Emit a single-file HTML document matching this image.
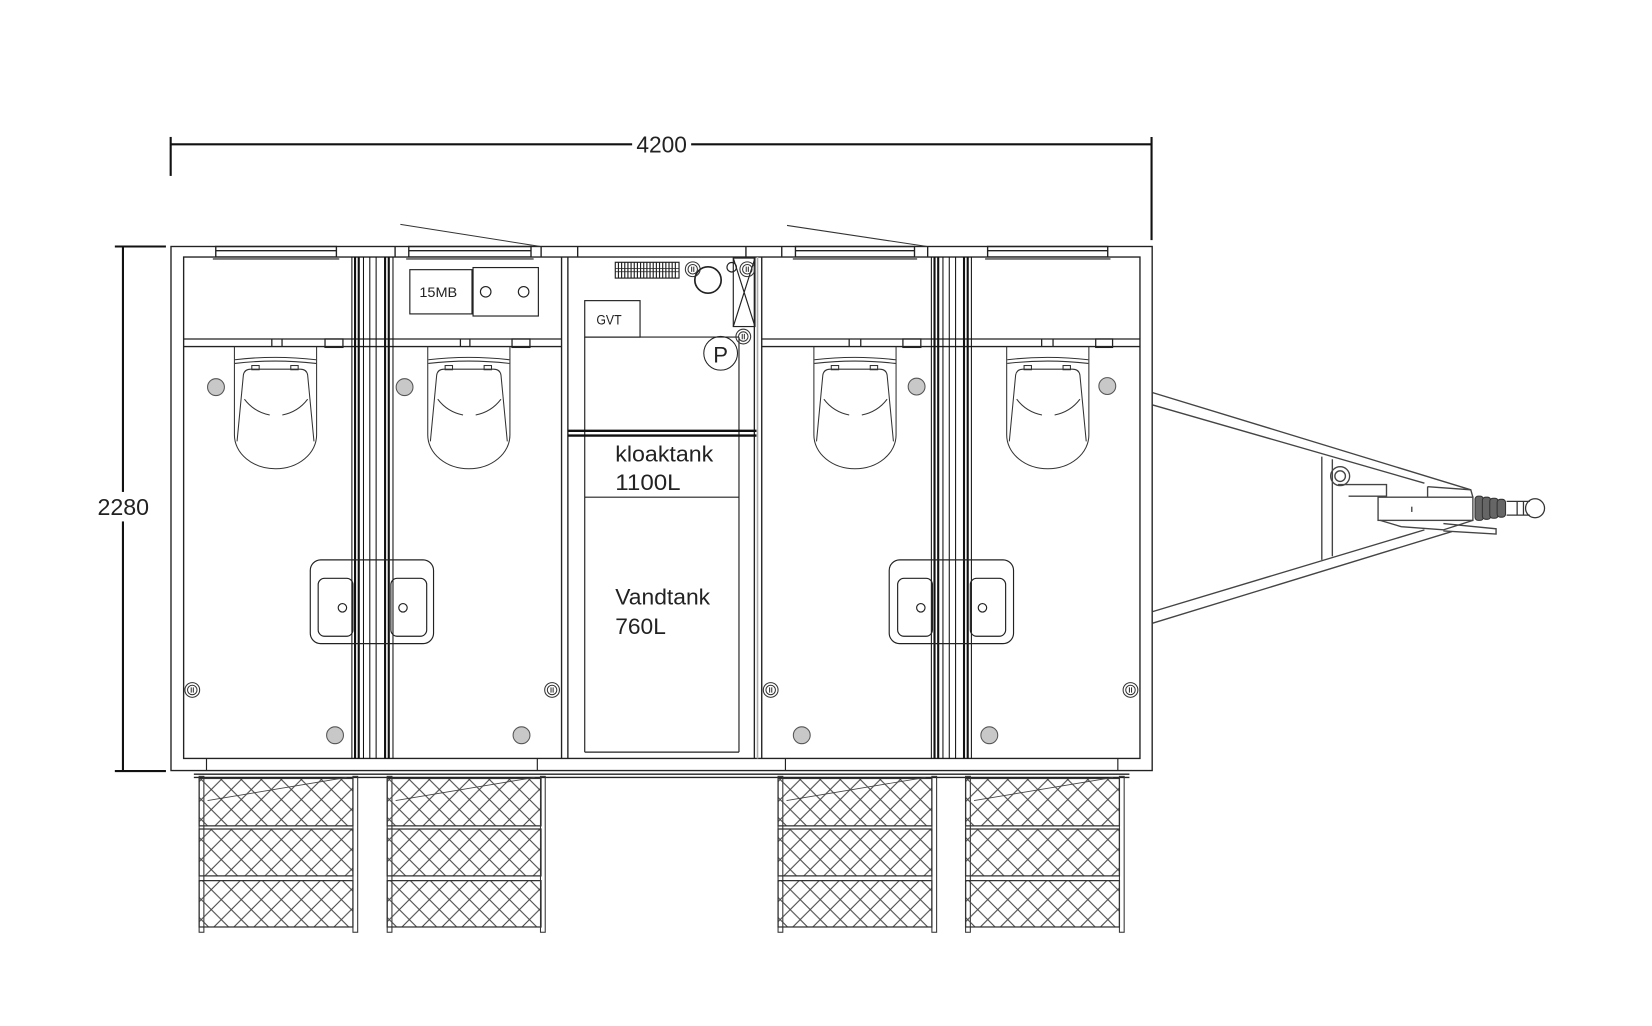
<!DOCTYPE html>
<html><head><meta charset="utf-8"><style>
html,body{margin:0;padding:0;background:#fff;}
svg{display:block;}
text{font-family:"Liberation Sans",sans-serif;fill:#222;}
</style></head><body>
<svg width="1652" height="1026" viewBox="0 0 1568 974" preserveAspectRatio="none" xmlns="http://www.w3.org/2000/svg">
<defs>
<pattern id="hatch" patternUnits="userSpaceOnUse" width="19" height="19" x="2" y="3">
<path d="M0,0 L19,19 M19,0 L0,19" stroke="#444" stroke-width="1" fill="none"/>
</pattern>
<g id="toilet" fill="none" stroke="#333" stroke-width="1">
<path d="M1.5,0 L1.5,84 A39,32 0 0 0 79.5,84 L79.5,0"/>
<path d="M2,12.5 Q40,8 79,12.5"/>
<path d="M2,16 Q40,11.5 79,16"/>
<path d="M4,90 L10,27 Q11,21.5 17,21.5 L64,21.5 Q70,21.5 71,27 L77,90"/>
<path d="M11,50 Q20,62 35,65"/>
<path d="M47,65 Q62,62 71,50"/>
<rect x="18" y="18" width="7" height="4"/>
<rect x="55" y="18" width="7" height="4"/>
</g>
<g id="dot"><circle r="8" fill="#c8c8c8" stroke="#555" stroke-width="1"/></g>
<g id="dc" fill="none" stroke="#333" stroke-width="1"><circle r="7"/><circle r="4.5"/><path d="M-1,-2.5 V2.5 M1,-2.5 V2.5"/></g>
<g id="cage">
<rect x="0" y="0" width="4.5" height="148" fill="none" stroke="#333" stroke-width="1"/>
<rect x="0" y="2" width="146" height="45" fill="url(#hatch)" stroke="#333" stroke-width="1.2"/>
<rect x="0" y="50" width="146" height="44.5" fill="url(#hatch)" stroke="#333" stroke-width="1.2"/>
<rect x="0" y="99" width="146" height="44" fill="url(#hatch)" stroke="#333" stroke-width="1.2"/>
<path d="M8,23 L140,1" stroke="#444" stroke-width="0.8"/>
</g>
</defs>

<g stroke="#111" stroke-width="2" fill="none">
<path d="M162,137 H1093"/>
<path d="M162,130 V167"/>
<path d="M1093,130 V228"/>
<path d="M116.7,234 V732"/>
<path d="M109,234 H157.5"/>
<path d="M109,732 H157.5"/>
</g>
<rect x="600" y="124" width="56" height="26" fill="#fff"/>
<text x="628" y="145" font-size="22" text-anchor="middle" textLength="48" lengthAdjust="spacingAndGlyphs">4200</text>
<rect x="90" y="467" width="54" height="28" fill="#fff"/>
<text x="117" y="489" font-size="22" text-anchor="middle" textLength="49" lengthAdjust="spacingAndGlyphs">2280</text>

<g fill="none" stroke="#222" stroke-width="1.3">
<rect x="162.3" y="234" width="931.3" height="497.5"/>
<rect x="174.3" y="244" width="907.7" height="476"/>
<path d="M375,234 V244 M513.6,234 V244 M548.3,234 V244 M708,234 V244 M742,234 V244 M880.5,234 V244"/>
<rect x="204.8" y="234" width="114.5" height="10"/><path d="M204.8,238 H319.3"/>
<rect x="388" y="234" width="116" height="10"/><path d="M388,238 H504"/>
<rect x="755" y="234" width="113" height="10"/><path d="M755,238 H868"/>
<rect x="937.4" y="234" width="114" height="10"/><path d="M937.4,238 H1051.4"/>
</g>
<g stroke="#777" stroke-width="2.5">
<path d="M202,245.5 H322 M385.5,245.5 H506.5 M752.5,245.5 H870.5 M935,245.5 H1054"/>
</g>
<g stroke="#333" stroke-width="1">
<path d="M380,213 L513,234"/>
<path d="M747,214 L880,234"/>
</g>

<g fill="none" stroke="#222" stroke-width="1.2">
<path d="M174.3,321.8 H533 M174.3,329 H533"/>
<path d="M723,321.8 H1082 M723,329 H1082"/>
<path d="M258,321.8 V329 M267.7,321.8 V329 M437,321.8 V329 M446,321.8 V329 M806,321.8 V329 M817,321.8 V329 M988.7,321.8 V329 M999.5,321.8 V329"/>
<rect x="308.5" y="321.8" width="17" height="8"/>
<rect x="486" y="321.8" width="17" height="8"/>
<rect x="857" y="321.8" width="17" height="8"/>
<rect x="1040" y="321.8" width="16" height="8"/>
</g>

<g stroke="#111">
<g stroke-width="1"><path d="M334,244 V720 M345,244 V720 M351,244 V720 M357,244 V720 M373,244 V720"/>
<path d="M884,244 V720 M895,244 V720 M901,244 V720 M907,244 V720 M922,244 V720"/></g>
<g stroke-width="2"><path d="M337,244 V720 M340.5,244 V720 M365.5,244 V720 M369,244 V720"/>
<path d="M887,244 V720 M890.5,244 V720 M915,244 V720 M918.5,244 V720"/></g>
</g>

<g fill="none" stroke="#222" stroke-width="1.3">
<path d="M533,244 V720 M539,244 V720 M716,244 V720 M723,244 V720"/>
</g>
<path d="M719,244 V720" stroke="#aaa" stroke-width="1.5"/>

<g fill="none" stroke="#222" stroke-width="1.1">
<rect x="584" y="249" width="60.5" height="15"/>
<path d="M587,249V264M590,249V264M593,249V264M596,249V264M599,249V264M602,249V264M605,249V264M608,249V264M611,249V264M614,249V264M617,249V264M620,249V264M623,249V264M626,249V264M629,249V264M632,249V264M635,249V264M638,249V264M641,249V264"/>
<path d="M584,255 H644.5 M584,258 H644.5" stroke-width="0.7"/>
<circle cx="672" cy="265.8" r="12.5" stroke-width="1.6"/>
<circle cx="694.5" cy="253.7" r="4.5"/>
<rect x="696" y="245" width="20.6" height="65"/>
<path d="M696,245 L716.6,310 M716.6,245 L696,310"/>
<rect x="555" y="285.4" width="52.5" height="34.6"/>
<path d="M555,320 H701.4 M555,320 V714 M701.4,320 V714 M555,472 H701.4 M555,714 H701.4"/>
<circle cx="684" cy="335.4" r="16" stroke-width="1"/>
<rect x="389" y="256" width="59" height="42"/>
<rect x="449" y="254" width="62" height="46"/>
<circle cx="461" cy="277" r="5"/>
<circle cx="497" cy="277" r="5"/>
</g>
<use href="#dc" x="657.5" y="255.6"/>
<use href="#dc" x="709.3" y="255.6"/>
<use href="#dc" x="705.5" y="319.5"/>
<g stroke="#111" stroke-width="2.2"><path d="M539,409 H718 M539,413.5 H718"/></g>
<text x="684" y="344" font-size="21" text-anchor="middle" fill="#444">P</text>
<text x="566" y="308" font-size="13" fill="#333" textLength="24" lengthAdjust="spacingAndGlyphs">GVT</text>
<text x="398" y="282" font-size="13" fill="#333" textLength="36" lengthAdjust="spacingAndGlyphs">15MB</text>
<g font-size="21" fill="#444">
<text x="584" y="438" textLength="93" lengthAdjust="spacingAndGlyphs">kloaktank</text>
<text x="584" y="465" textLength="62" lengthAdjust="spacingAndGlyphs">1100L</text>
<text x="584" y="574" textLength="90" lengthAdjust="spacingAndGlyphs">Vandtank</text>
<text x="584" y="602" textLength="48" lengthAdjust="spacingAndGlyphs">760L</text>
</g>

<use href="#toilet" x="221" y="329"/>
<use href="#toilet" x="404.5" y="329"/>
<use href="#toilet" x="771" y="329"/>
<use href="#toilet" x="954" y="329"/>

<use href="#dot" x="205" y="367.5"/>
<use href="#dot" x="384" y="367.5"/>
<use href="#dot" x="870" y="367"/>
<use href="#dot" x="1051" y="366.5"/>
<use href="#dot" x="318" y="698"/>
<use href="#dot" x="495" y="698"/>
<use href="#dot" x="761" y="698"/>
<use href="#dot" x="939" y="698"/>
<use href="#dc" x="182.5" y="655"/>
<use href="#dc" x="524" y="655"/>
<use href="#dc" x="731.5" y="655"/>
<use href="#dc" x="1073" y="655"/>

<g fill="none" stroke="#222" stroke-width="1.1">
<rect x="294.5" y="531.5" width="117" height="79.5" rx="10"/>
<rect x="302" y="549" width="33" height="55" rx="6"/>
<rect x="371" y="549" width="34" height="55" rx="6"/>
<circle cx="325" cy="577" r="4"/><circle cx="382.5" cy="577" r="4"/>
<rect x="844" y="531.5" width="118" height="79.5" rx="10"/>
<rect x="852" y="549" width="33" height="55" rx="6"/>
<rect x="921" y="549" width="33.5" height="55" rx="6"/>
<circle cx="874" cy="577" r="4"/><circle cx="932.5" cy="577" r="4"/>
</g>

<g fill="none" stroke="#222" stroke-width="1.1">
<path d="M196,720 V731.5 M510,720 V731.5 M745.5,720 V731.5 M1061,720 V731.5"/>
<path d="M184,735 H1072 M184,738 H1072" stroke-width="1.3"/>
</g>

<use href="#cage" x="189" y="737"/>
<use href="#cage" x="367.5" y="737"/>
<use href="#cage" x="738.5" y="737"/>
<use href="#cage" x="916.5" y="737"/>
<g fill="none" stroke="#333" stroke-width="1">
<rect x="335" y="737" width="4.5" height="148"/>
<rect x="513" y="737" width="4.5" height="148"/>
<rect x="884.5" y="737" width="4.5" height="148"/>
<rect x="1062.5" y="737" width="4.5" height="148"/>
</g>

<g fill="none" stroke="#444" stroke-width="1.3">
<path d="M1094,372.7 L1396,465"/>
<path d="M1094,384.4 L1352,458.7"/>
<path d="M1094,591.6 L1378,504.6"/>
<path d="M1094,580.6 L1352,503"/>
<path d="M1254.6,433.5 V531.5 M1264.6,436 V528"/>
<circle cx="1272" cy="452" r="9"/>
<circle cx="1272" cy="452" r="5"/>
<path d="M1270,460 H1316 V471 H1280"/>
<rect x="1308" y="472" width="90" height="22"/>
<path d="M1355,462 L1396,465 L1398,472 M1355,462 V472"/>
<path d="M1310,494 L1330,500 L1370,503 L1398,494"/>
<path d="M1370,497 L1420,502 L1420,507 L1370,504"/>
<path d="M1340,481 V486"/>
</g>
<g fill="#666" stroke="#333" stroke-width="1">
<rect x="1400" y="471" width="8" height="23" rx="3"/>
<rect x="1407" y="472" width="8" height="21" rx="3"/>
<rect x="1414" y="473" width="8" height="19" rx="3"/>
<rect x="1421" y="474" width="8" height="17" rx="3"/>
</g>
<g fill="none" stroke="#333" stroke-width="1.2">
<path d="M1430,476 H1452 M1430,489 H1452"/>
<circle cx="1457" cy="482.5" r="9"/>
<path d="M1440,476 V489 M1446,476 V489"/>
</g>
</svg>
</body></html>
